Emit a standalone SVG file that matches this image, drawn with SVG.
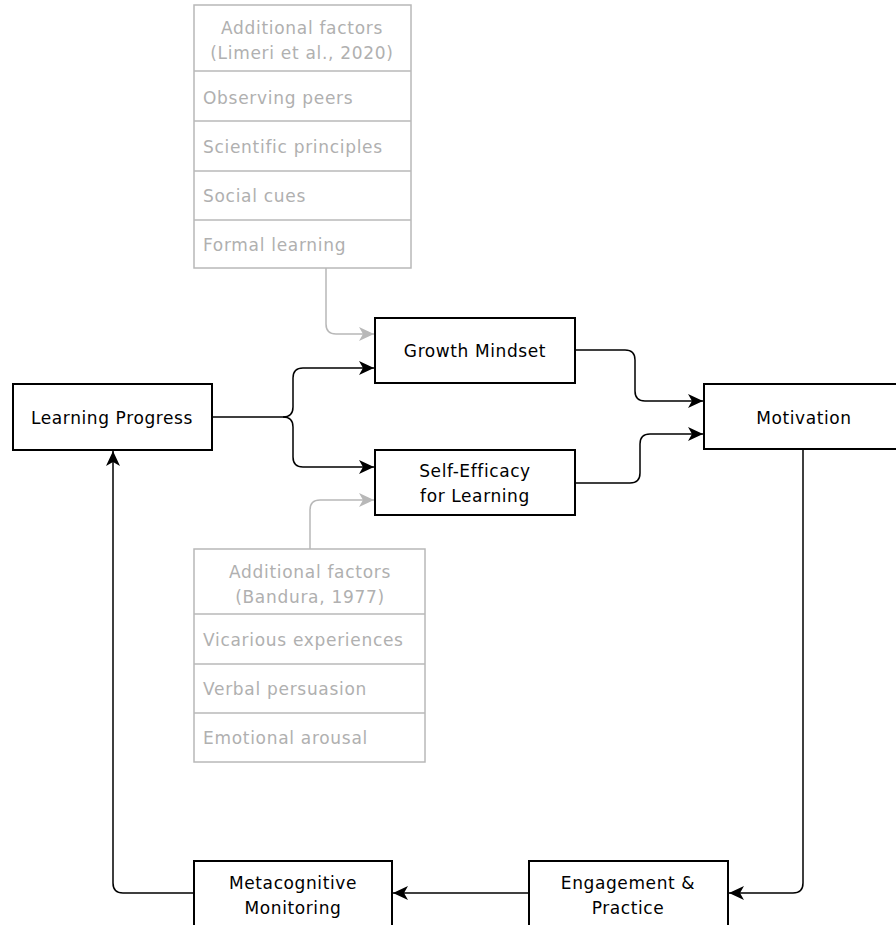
<svg xmlns="http://www.w3.org/2000/svg" width="896" height="925" viewBox="0 0 896 925">
<defs>
<style>
.box{fill:#fff;stroke:#000;stroke-width:2}
.gbox{fill:#fff;stroke:#b8b8b8;stroke-width:1.5}
.t{font-family:"DejaVu Sans","Liberation Sans",sans-serif;font-size:17px;letter-spacing:0.6px;fill:#000}
.gt{font-family:"DejaVu Sans","Liberation Sans",sans-serif;font-size:17px;letter-spacing:0.7px;fill:#b0b0b0}
.c{fill:none;stroke:#000;stroke-width:1.5}
.gc{fill:none;stroke:#b8b8b8;stroke-width:1.5}
</style>
<marker id="ab" markerUnits="userSpaceOnUse" markerWidth="16" markerHeight="14" refX="15" refY="7" orient="auto">
<path d="M0,0 L15,7 L0,14 L4,7 z" fill="#000"/>
</marker>
<marker id="ag" markerUnits="userSpaceOnUse" markerWidth="16" markerHeight="14" refX="15" refY="7" orient="auto">
<path d="M0,0 L15,7 L0,14 L4,7 z" fill="#b8b8b8"/>
</marker>
</defs>
<rect width="896" height="925" fill="#fff"/>

<g id="connectors">
<path class="gc" d="M326,268 V324 Q326,334 336,334 H374" marker-end="url(#ag)"/>
<path class="gc" d="M310,549 V510 Q310,500 320,500 H374" marker-end="url(#ag)"/>
<path class="c" d="M212,417 H283 Q293,417 293,407 V378 Q293,368 303,368 H374" marker-end="url(#ab)"/>
<path class="c" d="M283,417 Q293,417 293,427 V457 Q293,467 303,467 H374" marker-end="url(#ab)"/>
<path class="c" d="M575,350 H625 Q635,350 635,360 V391 Q635,401 645,401 H703" marker-end="url(#ab)"/>
<path class="c" d="M575,483 H630 Q640,483 640,473 V444 Q640,434 650,434 H703" marker-end="url(#ab)"/>
<path class="c" d="M803,449 V883 Q803,893 793,893 H729" marker-end="url(#ab)"/>
<path class="c" d="M529,893 H393" marker-end="url(#ab)"/>
<path class="c" d="M194,893 H123 Q113,893 113,883 V451" marker-end="url(#ab)"/>
</g>

<g id="limeri-factors">
<rect class="gbox" x="194" y="5" width="217" height="263"/>
<line class="gbox" x1="194" y1="71" x2="411" y2="71"/>
<line class="gbox" x1="194" y1="121" x2="411" y2="121"/>
<line class="gbox" x1="194" y1="171" x2="411" y2="171"/>
<line class="gbox" x1="194" y1="220" x2="411" y2="220"/>
<text class="gt" x="302" y="34" text-anchor="middle">Additional factors</text>
<text class="gt" x="302" y="59" text-anchor="middle">(Limeri et al., 2020)</text>
<text class="gt" x="203" y="104">Observing peers</text>
<text class="gt" x="203" y="153">Scientific principles</text>
<text class="gt" x="203" y="202">Social cues</text>
<text class="gt" x="203" y="251">Formal learning</text>
</g>

<g id="bandura-factors">
<rect class="gbox" x="194" y="549" width="231" height="213"/>
<line class="gbox" x1="194" y1="614" x2="425" y2="614"/>
<line class="gbox" x1="194" y1="664" x2="425" y2="664"/>
<line class="gbox" x1="194" y1="713" x2="425" y2="713"/>
<text class="gt" x="310" y="578" text-anchor="middle">Additional factors</text>
<text class="gt" x="310" y="603" text-anchor="middle">(Bandura, 1977)</text>
<text class="gt" x="203" y="646">Vicarious experiences</text>
<text class="gt" x="203" y="695">Verbal persuasion</text>
<text class="gt" x="203" y="744">Emotional arousal</text>
</g>

<g id="learning-progress">
<rect class="box" x="13" y="384" width="199" height="66"/>
<text class="t" x="112" y="424" text-anchor="middle">Learning Progress</text>
</g>

<g id="growth-mindset">
<rect class="box" x="375" y="318" width="200" height="65"/>
<text class="t" x="475" y="357" text-anchor="middle">Growth Mindset</text>
</g>

<g id="self-efficacy">
<rect class="box" x="375" y="450" width="200" height="65"/>
<text class="t" x="475" y="477" text-anchor="middle">Self-Efficacy</text>
<text class="t" x="475" y="502" text-anchor="middle">for Learning</text>
</g>

<g id="motivation">
<rect class="box" x="704" y="384" width="200" height="65"/>
<text class="t" x="804" y="424" text-anchor="middle">Motivation</text>
</g>

<g id="engagement">
<rect class="box" x="529" y="861" width="199" height="80"/>
<text class="t" x="628" y="889" text-anchor="middle">Engagement &amp;</text>
<text class="t" x="628" y="914" text-anchor="middle">Practice</text>
</g>

<g id="metacognitive">
<rect class="box" x="194" y="861" width="198" height="80"/>
<text class="t" x="293" y="889" text-anchor="middle">Metacognitive</text>
<text class="t" x="293" y="914" text-anchor="middle">Monitoring</text>
</g>
</svg>
